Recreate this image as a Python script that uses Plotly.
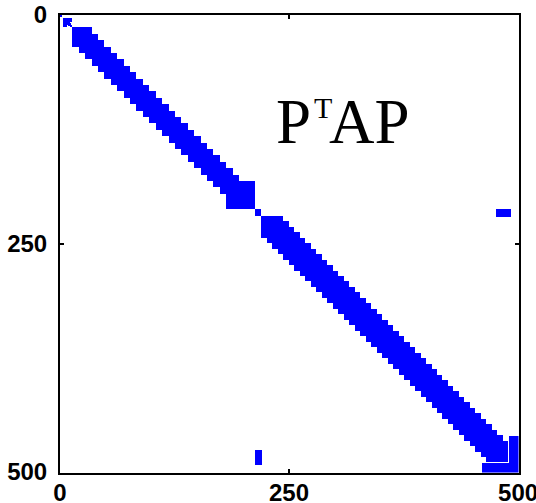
import numpy as np
import plotly.graph_objects as go

# Matrix order and axis ticks
N = 501
TICKS = [0, 250, 500]

# Banded blocks along the diagonal: start row, block sizes, block half-bandwidth
BAND1_START = 14
BAND1_BLOCKS = [7] * 28 + [3]
BAND1_K = 2

BAND2_START = 220
BAND2_BLOCKS = [6] * 45
BAND2_K = 3

# Extra dense rectangles (row0, row1, col0, col1), mirrored across the diagonal
RECTS = [
    (0, 2, 0, 2),          # leading corner
    (4, 7, 4, 13),         # small leading arrow
    (201, 212, 182, 212),  # arrow head closing the first band
    (190, 212, 196, 212),
    (213, 219, 213, 219),  # coupling block between the bands
    (213, 220, 476, 492),  # far off-diagonal coupling
    (491, 500, 461, 500),  # trailing arrow
]
SMALL_DIAG = (4, 13, 2)     # start, end, half-bandwidth of the leading arrow

TEXT_MAIN = "P"
TEXT_SUP = "T"
TEXT_REST = "AP"


def band_mask(n, start, blocks, k):
    m = np.zeros((n, n), dtype=bool)
    edges = np.concatenate([[start], start + np.cumsum(blocks)])
    nb = len(blocks)
    for a in range(nb):
        for b in range(max(0, a - k), min(nb, a + k + 1)):
            m[edges[a]:edges[a + 1], edges[b]:edges[b + 1]] = True
    return m


S = np.zeros((N, N), dtype=bool)
S |= band_mask(N, BAND1_START, BAND1_BLOCKS, BAND1_K)
S |= band_mask(N, BAND2_START, BAND2_BLOCKS, BAND2_K)
for r0, r1, c0, c1 in RECTS:
    S[r0:r1 + 1, c0:c1 + 1] = True
    S[c0:c1 + 1, r0:r1 + 1] = True
d0, d1, dk = SMALL_DIAG
for i in range(d0, d1 + 1):
    S[i, max(d0, i - dk):min(d1, i + dk) + 1] = True

fig = go.Figure(
    go.Heatmap(
        z=S.astype(int),
        x=np.arange(N),
        y=np.arange(N),
        colorscale=[[0, "white"], [1, "#0000ff"]],
        zmin=0,
        zmax=1,
        showscale=False,
        zsmooth=False,
        hoverinfo="skip",
    )
)

axis_common = dict(
    tickmode="array",
    tickvals=TICKS,
    ticktext=[str(t) for t in TICKS],
    ticks="inside",
    ticklen=4,
    tickwidth=2,
    tickcolor="black",
    showline=True,
    linecolor="black",
    linewidth=2,
    mirror="ticks",
    showgrid=False,
    zeroline=False,
    automargin=False,
    ticklabeloverflow="allow",
    tickfont=dict(family="Liberation Sans", size=24, color="black", weight="bold"),
)

fig.update_xaxes(range=[0, 501], ticklabelstandoff=-3, **axis_common)
fig.update_yaxes(range=[501, 0], ticklabelstandoff=6, **axis_common)


def px2paper(px, py):
    return (px - 60) / 459, (473 - py) / 458


serif = "Liberation Serif"
x0, y0 = px2paper(274, 122)
x1, y1 = px2paper(312, 108)
x2, y2 = px2paper(327, 122)
fig.add_annotation(x=x0, y=y0, xref="paper", yref="paper", text=TEXT_MAIN,
                   showarrow=False, xanchor="left", yanchor="middle",
                   font=dict(family=serif, size=63, color="black"))
fig.add_annotation(x=x1, y=y1, xref="paper", yref="paper", text=TEXT_SUP,
                   showarrow=False, xanchor="left", yanchor="middle",
                   font=dict(family=serif, size=30, color="black"))
fig.add_annotation(x=x2, y=y2, xref="paper", yref="paper", text=TEXT_REST,
                   showarrow=False, xanchor="left", yanchor="middle",
                   font=dict(family=serif, size=63, color="black"))

fig.update_layout(
    width=536,
    height=503,
    margin=dict(l=60, r=17, t=15, b=30),
    paper_bgcolor="white",
    plot_bgcolor="white",
    showlegend=False,
)

fig.write_html("out.html")
